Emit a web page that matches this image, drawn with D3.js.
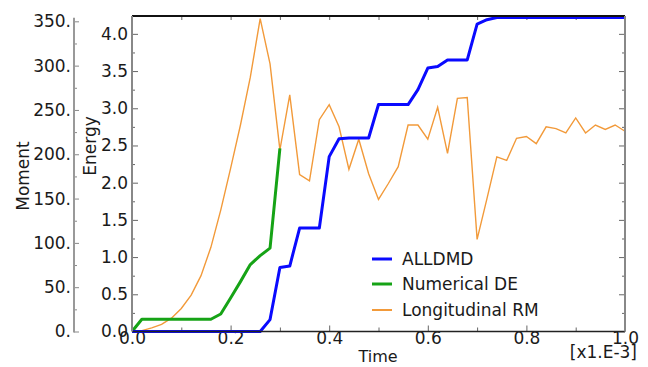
<!DOCTYPE html>
<html>
<head>
<meta charset="utf-8">
<script src="https://cdn.jsdelivr.net/npm/d3@7"></script>
<style>
  body { margin: 0; background: #fff; }
  svg text { font-family: "DejaVu Sans", Verdana, sans-serif; fill: #1a1a1a; }
</style>
</head>
<body>
<svg id="chart" width="648" height="367"></svg>
<script>
// time in [x1.E-3]
const timeSteps = [0, 0.02, 0.04, 0.06, 0.08, 0.10, 0.12, 0.14, 0.16, 0.18, 0.20, 0.22, 0.24, 0.26, 0.28, 0.30,
    0.32, 0.34, 0.36, 0.38, 0.40, 0.42, 0.44, 0.46, 0.48, 0.50, 0.52, 0.54, 0.56, 0.58, 0.60, 0.62, 0.64, 0.66,
    0.68, 0.70, 0.72, 0.74, 0.76, 0.78, 0.80, 0.82, 0.84, 0.86, 0.88, 0.90, 0.92, 0.94, 0.96, 0.98, 1.00];

// Energy
const alldmd = [0, 0, 0, 0, 0, 0, 0, 0, 0, 0, 0, 0, 0, 0, 0.16, 0.86,
    0.88, 1.39, 1.39, 1.39, 2.35, 2.59, 2.60, 2.60, 2.60, 3.05, 3.05, 3.05, 3.05, 3.25, 3.54, 3.56, 3.65, 3.65,
    3.65, 4.13, 4.19, 4.22, 4.22, 4.22, 4.22, 4.22, 4.22, 4.22, 4.22, 4.22, 4.22, 4.22, 4.22, 4.22, 4.22];

const numericalDE = [0, 0.165, 0.165, 0.165, 0.165, 0.165, 0.165, 0.165, 0.165, 0.235, 0.45, 0.67, 0.90, 1.02, 1.12, 2.46];

// Moment
const longitudinalRM = [0, 1, 4, 8, 15, 26, 41, 63, 95, 137, 184, 233, 287, 353, 302, 205,
    267, 177, 170, 239, 256, 231, 183, 217, 178, 149, 167, 186, 233, 233, 217, 253, 201, 263,
    264, 104, 150, 197, 193, 218, 220, 212, 231, 229, 224, 241, 224, 233, 228, 233, 226];

const energyTicks = [0, 0.5, 1.0, 1.5, 2.0, 2.5, 3.0, 3.5, 4.0];
const momentTicks = [0, 50, 100, 150, 200, 250, 300, 350];
const timeTicks = [0, 0.2, 0.4, 0.6, 0.8, 1.0];

const seriesNames = ["ALLDMD", "Numerical DE", "Longitudinal RM"];
const seriesColors = ["#0a0aff", "#16a316", "#f29a3a"];

const svg = d3.select("#chart");
const margins = { left: 132, right: 625, top: 16, bottom: 331.5 };

const xScale = d3.scaleLinear().domain([0, 1]).range([margins.left, margins.right]);
const yEnergy = d3.scaleLinear().domain([0, 4.24]).range([margins.bottom, margins.top]);
const yMoment = d3.scaleLinear().domain([0, 356]).range([margins.bottom, margins.top]);

const fontSize = 17;

// Moment axis (separate, to the left)
const momentAxisX = 74;
const gMomentMinor = svg.append("g").attr("transform", `translate(${momentAxisX},0)`)
    .call(d3.axisLeft(yMoment).tickValues(d3.range(25, 356, 50)).tickSize(-3).tickSizeOuter(0).tickFormat(""));
const gMoment = svg.append("g").attr("transform", `translate(${momentAxisX},0)`)
    .call(d3.axisLeft(yMoment).tickValues(momentTicks).tickSize(-5).tickSizeOuter(0).tickPadding(3)
        .tickFormat((d) => d + "."));
[gMomentMinor, gMoment].forEach((g) => {
    g.select(".domain").remove();
    g.selectAll("line").attr("stroke", "#888");
});
gMoment.selectAll("text").attr("font-size", fontSize).attr("font-family", null);
svg.append("line")
    .attr("x1", momentAxisX).attr("x2", momentAxisX)
    .attr("y1", yMoment(354)).attr("y2", margins.bottom + 1)
    .attr("stroke", "#999").attr("stroke-width", 2);

// Energy axis (left of frame) + right mirror
const energyMinor = d3.range(0.25, 4.24, 0.5);
const gEnergyMinor = svg.append("g").attr("transform", `translate(${margins.left},0)`)
    .call(d3.axisLeft(yEnergy).tickValues(energyMinor).tickSize(-3).tickSizeOuter(0).tickFormat(""));
const gEnergy = svg.append("g").attr("transform", `translate(${margins.left},0)`)
    .call(d3.axisLeft(yEnergy).tickValues(energyTicks).tickSize(-6).tickSizeOuter(0).tickPadding(4)
        .tickFormat(d3.format(".1f")));
const gRightMinor = svg.append("g").attr("transform", `translate(${margins.right},0)`)
    .call(d3.axisRight(yEnergy).tickValues(energyMinor).tickSize(-3).tickSizeOuter(0).tickFormat(""));
const gRight = svg.append("g").attr("transform", `translate(${margins.right},0)`)
    .call(d3.axisRight(yEnergy).tickValues(energyTicks).tickSize(-6).tickSizeOuter(0).tickFormat(""));

// Time axis (bottom) + top mirror
const timeMinor = d3.range(0.1, 1, 0.2);
const gTimeMinor = svg.append("g").attr("transform", `translate(0,${margins.bottom})`)
    .call(d3.axisBottom(xScale).tickValues(timeMinor).tickSize(-4).tickSizeOuter(0).tickFormat(""));
const gTime = svg.append("g").attr("transform", `translate(0,${margins.bottom})`)
    .call(d3.axisBottom(xScale).tickValues(timeTicks).tickSize(-6).tickSizeOuter(0).tickPadding(0)
        .tickFormat(d3.format(".1f")));
const gTop = svg.append("g").attr("transform", `translate(0,${margins.top})`)
    .call(d3.axisTop(xScale).tickValues(d3.range(0.1, 1, 0.1)).tickSize(-4).tickSizeOuter(0).tickFormat(""));

[gEnergyMinor, gEnergy, gRightMinor, gRight, gTimeMinor, gTime, gTop].forEach((g) => {
    g.select(".domain").remove();
    g.selectAll("line").attr("stroke", "#666");
});
[gEnergy, gTime].forEach((g) => g.selectAll("text").attr("font-size", fontSize).attr("font-family", null));

// Plot lines
const clipId = "plotClip";
svg.append("clipPath").attr("id", clipId).append("rect")
    .attr("x", margins.left).attr("y", margins.top - 2)
    .attr("width", margins.right - margins.left).attr("height", margins.bottom - margins.top + 4);

const plot = svg.append("g").attr("clip-path", `url(#${clipId})`);

const energyLine = d3.line().x((d) => xScale(d[0])).y((d) => yEnergy(d[1]));
const momentLine = d3.line().x((d) => xScale(d[0])).y((d) => yMoment(d[1]));

plot.append("path")
    .datum(longitudinalRM.map((v, i) => [timeSteps[i], v]))
    .attr("d", momentLine)
    .attr("fill", "none").attr("stroke", seriesColors[2]).attr("stroke-width", 1.4);

plot.append("path")
    .datum(numericalDE.map((v, i) => [timeSteps[i], v]))
    .attr("d", energyLine)
    .attr("fill", "none").attr("stroke", seriesColors[1]).attr("stroke-width", 3)
    .attr("stroke-linejoin", "round");

plot.append("path")
    .datum(alldmd.map((v, i) => [timeSteps[i], v]))
    .attr("d", energyLine)
    .attr("fill", "none").attr("stroke", seriesColors[0]).attr("stroke-width", 3)
    .attr("stroke-linejoin", "round");

// Frame
svg.append("line").attr("x1", margins.left).attr("x2", margins.right).attr("y1", margins.top).attr("y2", margins.top)
    .attr("stroke", "#111").attr("stroke-width", 2);
svg.append("line").attr("x1", margins.left).attr("x2", margins.right).attr("y1", margins.bottom).attr("y2", margins.bottom)
    .attr("stroke", "#222").attr("stroke-width", 1.5);
svg.append("line").attr("x1", margins.left).attr("x2", margins.left).attr("y1", margins.top).attr("y2", margins.bottom)
    .attr("stroke", "#888").attr("stroke-width", 2);
svg.append("line").attr("x1", margins.right).attr("x2", margins.right).attr("y1", margins.top).attr("y2", margins.bottom)
    .attr("stroke", "#888").attr("stroke-width", 2);

// Axis titles
svg.append("text").attr("transform", "translate(29,176) rotate(-90)")
    .attr("text-anchor", "middle").attr("font-size", fontSize).text("Moment");
svg.append("text").attr("transform", "translate(96,146) rotate(-90)")
    .attr("text-anchor", "middle").attr("font-size", fontSize).text("Energy");
svg.append("text").attr("x", 378).attr("y", 362)
    .attr("text-anchor", "middle").attr("font-size", fontSize - 1).text("Time");
svg.append("text").attr("x", 637).attr("y", 358)
    .attr("text-anchor", "end").attr("font-size", fontSize).text("[x1.E-3]");

// Legend
const legend = svg.append("g").attr("class", "legend");
const legendRows = [259, 284, 310];
seriesNames.forEach((name, i) => {
    legend.append("line")
        .attr("x1", 372).attr("x2", 392).attr("y1", legendRows[i]).attr("y2", legendRows[i])
        .attr("stroke", seriesColors[i]).attr("stroke-width", i === 2 ? 2 : 3);
    legend.append("text")
        .attr("x", 402).attr("y", legendRows[i]).attr("dy", "0.36em")
        .attr("font-size", fontSize).text(name);
});
</script>
</body>
</html>
